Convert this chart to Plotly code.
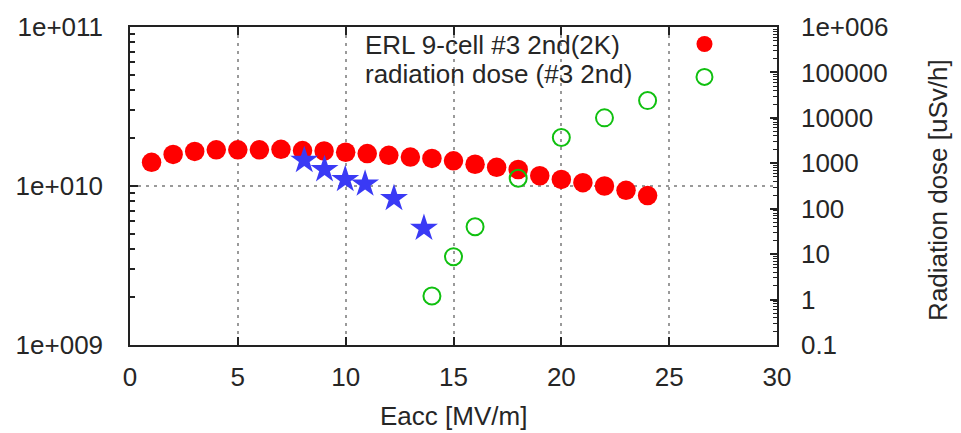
import plotly.graph_objects as go

# ---- data ----
eacc_q0 = [1, 2, 3, 4, 5, 6, 7, 8, 9, 10, 11, 12, 13, 14, 15, 16, 17, 18, 19, 20, 21, 22, 23, 24]
q0_values = [1.41e10, 1.58e10, 1.65e10, 1.69e10, 1.69e10, 1.69e10, 1.70e10, 1.67e10,
             1.66e10, 1.63e10, 1.60e10, 1.56e10, 1.52e10, 1.49e10, 1.44e10, 1.37e10,
             1.31e10, 1.27e10, 1.16e10, 1.10e10, 1.05e10, 1.00e10, 9.4e9, 8.7e9]

eacc_star = [8.08, 9.02, 9.98, 10.9, 12.24, 13.63]
q0_star = [1.45e10, 1.27e10, 1.10e10, 1.03e10, 8.35e9, 5.43e9]

eacc_dose = [14, 15, 16, 18, 20, 22, 24]
dose_values = [1.2, 8.8, 40, 470, 3700, 1.0e4, 2.4e4]

left_tickvals = [1e9, 1e10, 1e11]
left_ticktext = ["1e+009", "1e+010", "1e+011"]
right_tickvals = [0.1, 1, 10, 100, 1000, 10000, 100000, 1e6]
right_ticktext = ["0.1", "1", "10", "100", "1000", "10000", "100000", "1e+006"]

legend_labels = ["ERL 9-cell #3 2nd(2K)", "radiation dose (#3 2nd)"]
x_title = "Eacc [MV/m]"
y2_title = "Radiation dose [uSv/h]"

FONT = "Liberation Sans, Arial, sans-serif"
TXT = "#262626"
FS = 26

left_minor = [m * 10 ** e for e in range(9, 11) for m in range(2, 10)]
right_minor = [m * 10.0 ** e for e in range(-1, 6) for m in range(2, 10)]

fig = go.Figure()
fig.add_trace(go.Scatter(
    x=eacc_q0, y=q0_values, mode="markers", name=" ",
    marker=dict(symbol="circle", size=19.5, color="#ff0000"),
    yaxis="y"))
fig.add_trace(go.Scatter(
    x=eacc_star, y=q0_star, mode="markers", showlegend=False,
    marker=dict(symbol="star", size=21, color="#3a3af5"),
    yaxis="y"))
fig.add_trace(go.Scatter(
    x=eacc_dose, y=dose_values, mode="markers", name="  ",
    marker=dict(symbol="circle-open", size=17, color="#10c010",
                line=dict(width=2, color="#10c010")),
    yaxis="y2"))

grid = dict(gridcolor="#9a9a9a", griddash="3px,5px", gridwidth=1.5)

fig.update_layout(
    width=961, height=433,
    margin=dict(l=130, r=184, t=21, b=88),
    paper_bgcolor="white", plot_bgcolor="white",
    font=dict(family=FONT, size=FS, color=TXT),
    showlegend=True,
    legend=dict(x=0.857, y=1.014, xanchor="left", yanchor="top",
                bgcolor="rgba(0,0,0,0)", font=dict(size=23),
                tracegroupgap=0, itemsizing="trace"),
    xaxis=dict(range=[0, 30], dtick=5, tick0=0, showgrid=True, **grid,
               zeroline=False, showline=True, linecolor="#222", linewidth=1.5,
               mirror="ticks", ticks="inside", ticklen=8, tickcolor="#222",
               tickwidth=1.5, ticklabelstandoff=8,
               tickfont=dict(family=FONT, size=FS, color=TXT)),
    yaxis=dict(type="log", range=[9, 11], tickvals=left_tickvals,
               ticktext=left_ticktext, showgrid=True, **grid,
               zeroline=False, showline=True, linecolor="#222", linewidth=1.5,
               mirror=False, ticks="inside", ticklen=8, tickcolor="#222",
               tickwidth=1.5, ticklabelstandoff=20,
               minor=dict(tickvals=left_minor, ticks="inside", ticklen=5,
                          tickcolor="#222", tickwidth=1.5, showgrid=False),
               tickfont=dict(family=FONT, size=FS, color=TXT)),
    yaxis2=dict(type="log", range=[-1, 6], tickvals=right_tickvals,
                ticktext=right_ticktext, overlaying="y", side="right",
                showgrid=False, zeroline=False, showline=True,
                linecolor="#222", linewidth=1.5, ticks="inside", ticklen=7,
                tickcolor="#222", tickwidth=1.5, ticklabelstandoff=17,
                minor=dict(tickvals=right_minor, ticks="inside", ticklen=4,
                           tickcolor="#222", tickwidth=1.2, showgrid=False),
                tickfont=dict(family=FONT, size=FS, color=TXT)),
    annotations=[
        dict(text=x_title, xref="paper", yref="paper", x=0.5, y=-0.224,
             xanchor="center", yanchor="middle", showarrow=False,
             font=dict(family=FONT, size=FS, color=TXT)),
        dict(text=y2_title, xref="paper", yref="paper", x=1.2488, y=0.4877,
             xanchor="center", yanchor="middle", textangle=-90, showarrow=False,
             font=dict(family=FONT, size=FS, color=TXT)),
        dict(text=legend_labels[0], xref="paper", yref="paper", x=0.3601,
             y=0.943, xanchor="left", yanchor="middle", showarrow=False,
             font=dict(family=FONT, size=FS, color=TXT)),
        dict(text=legend_labels[1], xref="paper", yref="paper", x=0.3601,
             y=0.851, xanchor="left", yanchor="middle", showarrow=False,
             font=dict(family=FONT, size=FS, color=TXT)),
    ],
)

fig.write_html("out.html")
